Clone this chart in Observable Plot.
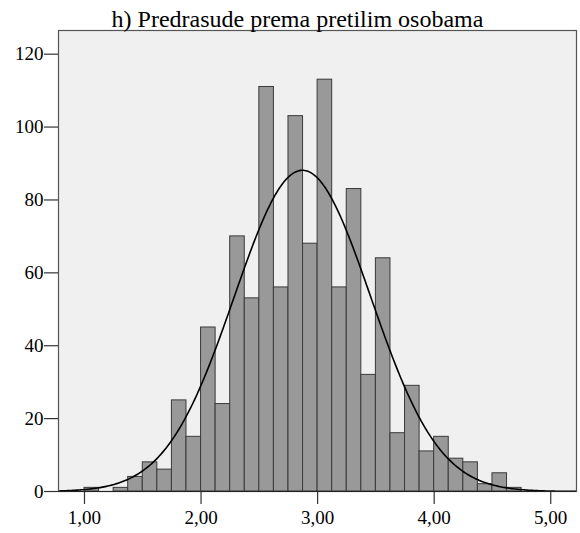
<!DOCTYPE html>
<html>
<head>
<meta charset="utf-8">
<script src="https://cdn.jsdelivr.net/npm/d3@7"></script>
<script src="https://cdn.jsdelivr.net/npm/@observablehq/plot@0.6"></script>
<style>
  html, body { margin: 0; padding: 0; background: #ffffff; }
  #wrap { position: relative; width: 580px; height: 533px; }
  #title { position: absolute; left: 0; top: 7px; width: 595px; text-align: center;
           font-family: "Liberation Serif", Tinos, "Times New Roman", Times, "DejaVu Serif", serif; font-size: 24px; line-height: 24px; color: #000; white-space: nowrap; }
  #chart { position: absolute; left: 0; top: 0; }
  #chart svg text { font-family: "Liberation Serif", Tinos, "Times New Roman", Times, "DejaVu Serif", serif; }
</style>
</head>
<body>
<div id="wrap">
  <div id="chart"></div>
  <div id="title">h) Predrasude prema pretilim osobama</div>
</div>
<script>
// Bin lower edges (bin width 0.125)
const binStart = [1.000, 1.125, 1.250, 1.375, 1.500, 1.625, 1.750, 1.875,
                  2.000, 2.125, 2.250, 2.375, 2.500, 2.625, 2.750, 2.875,
                  3.000, 3.125, 3.250, 3.375, 3.500, 3.625, 3.750, 3.875,
                  4.000, 4.125, 4.250, 4.375, 4.500, 4.625];
const counts   = [1, 0, 1, 4, 8, 6, 25, 15,
                  45, 24, 70, 53, 111, 56, 103, 68,
                  113, 56, 83, 32, 64, 16, 29, 11,
                  15, 9, 8, 2, 5, 1];
const binWidth = 0.125;
// Fitted normal curve parameters
const curveMean = 2.87;
const curveSD = 0.585;
const curveN = 1034;
const xTicks = [1, 2, 3, 4, 5];
const xTickLabels = ["1,00", "2,00", "3,00", "4,00", "5,00"];
const yTicks = [0, 20, 40, 60, 80, 100, 120];

const bars = binStart.map((b, i) => ({x1: b, x2: b + binWidth, count: counts[i]})).filter(d => d.count > 0);

const xDomain = [0.777, 5.221];
const curve = d3.range(0, 401).map(i => {
  const x = xDomain[0] + (xDomain[1] - xDomain[0]) * i / 400;
  const z = (x - curveMean) / curveSD;
  return {x, y: curveN * binWidth / (curveSD * Math.sqrt(2 * Math.PI)) * Math.exp(-0.5 * z * z)};
});

const serif = "'Liberation Serif', Tinos, 'Times New Roman', Times, 'DejaVu Serif', serif";
const chart = Plot.plot({
  width: 580,
  height: 533,
  marginLeft: 58,
  marginRight: 4,
  marginTop: 30,
  marginBottom: 42,
  style: {fontFamily: serif, fontSize: "19px", color: "#000", background: "transparent", overflow: "visible"},
  x: {domain: xDomain, label: null},
  y: {domain: [0, 126.5], label: null},
  marks: [
    Plot.frame({fill: "#f0f0f0", stroke: null}),
    Plot.rectY(bars, {x1: "x1", x2: "x2", y: "count", fill: "#999999", stroke: "#3a3a3a", strokeWidth: 1, inset: 0}),
    Plot.line(curve, {x: "x", y: "y", stroke: "#000", strokeWidth: 1.6, clip: true}),
    Plot.frame({stroke: "#555555", strokeWidth: 1.2}),
    Plot.axisX({ticks: xTicks, tickFormat: (d) => xTickLabels[xTicks.indexOf(d)], tickSize: 13, tickPadding: 6, fontSize: 19, fontFamily: serif, stroke: "#333", strokeWidth: 1.2}),
    Plot.axisY({ticks: yTicks, tickSize: 14, tickPadding: 1, fontSize: 19, fontFamily: serif, stroke: "#333", strokeWidth: 1.2}),
    Plot.ruleY([0], {stroke: "#222", strokeWidth: 1.2})
  ]
});
document.getElementById("chart").appendChild(chart);
</script>
</body>
</html>
